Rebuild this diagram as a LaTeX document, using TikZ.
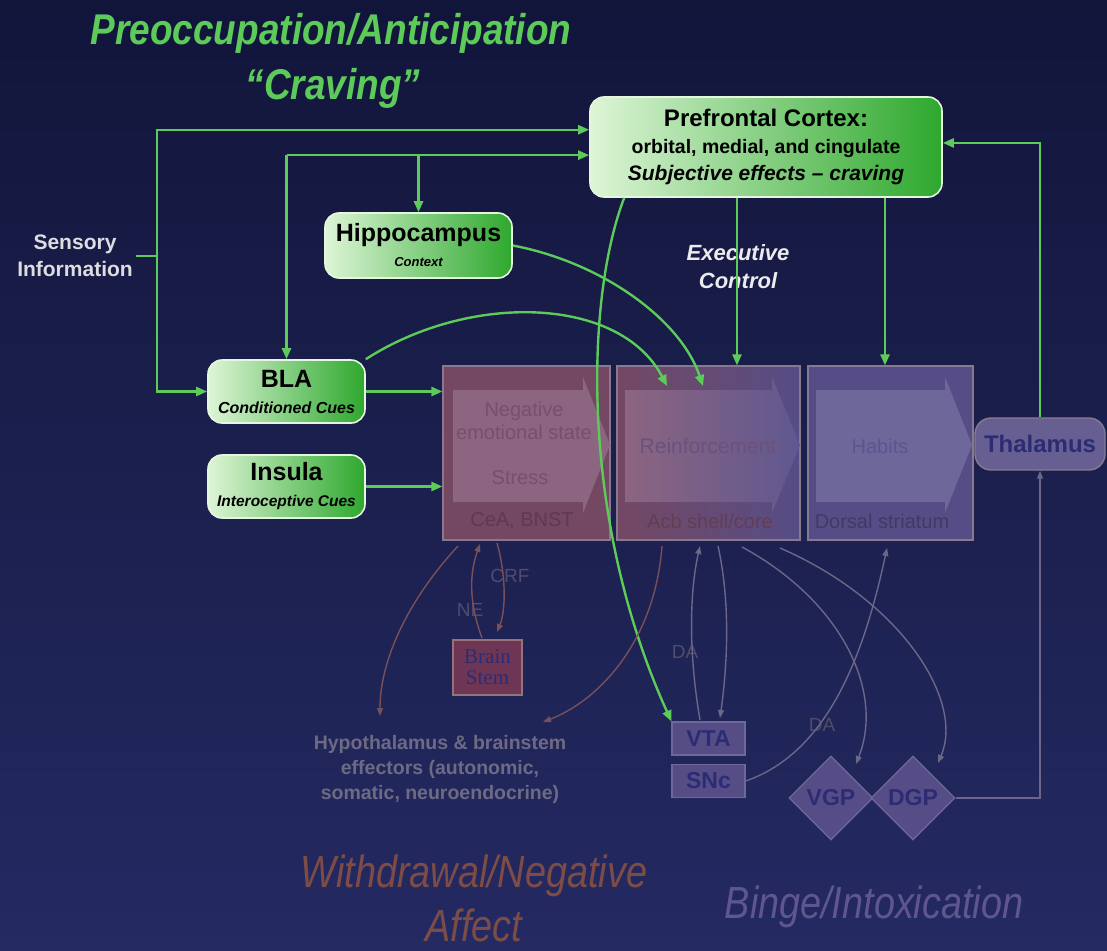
\documentclass[tikz,border=0pt]{standalone}
\usepackage{fontspec}
\setmainfont{Liberation Sans}
\newfontfamily\serifbs{Liberation Serif}
\usetikzlibrary{arrows.meta,calc,shapes.geometric}
\definecolor{bgtop}{HTML}{12153A}
\definecolor{bgbot}{HTML}{242A62}
\definecolor{gline}{HTML}{5CCB5A}
\definecolor{glight}{HTML}{DDF5D6}
\definecolor{gdark}{HTML}{2EA82E}
\definecolor{fadeline}{HTML}{6C6688}
\definecolor{brownline}{HTML}{7A5058}
\definecolor{fadetext}{HTML}{6E6A84}
\definecolor{navytext}{HTML}{2C2C74}
\definecolor{maroon}{HTML}{744863}
\definecolor{maroonlt}{HTML}{8C6580}
\definecolor{purp}{HTML}{564D86}
\definecolor{purplt}{HTML}{6E679A}
\definecolor{boxedge}{HTML}{877A8E}
\definecolor{wdtext}{HTML}{7E4C46}
\definecolor{negtext}{HTML}{76506C}
\definecolor{reintext}{HTML}{6A527C}
\definecolor{habtext}{HTML}{5C5590}
\begin{document}
\begin{tikzpicture}[x=1pt,y=-1pt,
  greenbox/.style={draw=glight!80!white,line width=1.6pt,rounded corners=14pt,
    left color=glight,right color=gdark,align=center,inner sep=1pt},
  garrow/.style={draw=gline,line width=2.4pt,-{Triangle[length=11pt,width=9pt]}},
  gplain/.style={draw=gline,line width=2.4pt},
  farrow/.style={draw=fadeline,line width=1.4pt,-{Triangle[length=8pt,width=6pt]}},
  barrow/.style={draw=brownline,line width=1.4pt,-{Triangle[length=8pt,width=6pt]}},
  fadebox/.style={draw=purplt,line width=1.2pt,fill=purp,text=navytext,
    font=\fontsize{23}{24}\selectfont\bfseries,inner sep=0pt},
  flabel/.style={text=fadetext!120!white,font=\fontsize{19}{20}\selectfont}]

% background
\shade[top color=bgtop,bottom color=bgbot] (0,0) rectangle (1107,950);
\useasboundingbox (0,0) rectangle (1107,950);

% titles
\node[text=gline,font=\fontsize{43}{46}\selectfont\bfseries\itshape,xscale=0.86] (title1) at (331,33) {Preoccupation/Anticipation};
\node[text=gline,font=\fontsize{43}{46}\selectfont\bfseries\itshape,xscale=0.86] (title2) at (333,88) {“Craving”};

% green boxes
\node[greenbox,minimum width=352pt,minimum height=100pt,font=\fontsize{20}{27}\selectfont] (pfc) at (766,147)
  {{\fontsize{24}{27}\selectfont\bfseries Prefrontal Cortex:}\\
   {\fontsize{19.5}{27}\selectfont\bfseries orbital, medial, and cingulate}\\
   {\fontsize{21}{27}\selectfont\bfseries\itshape Subjective effects – craving}};
\node[greenbox,minimum width=187pt,minimum height=65pt,font=\fontsize{14}{25}\selectfont] (hip) at (418.5,245.5)
  {{\fontsize{25}{25}\selectfont\bfseries Hippocampus}\\
   {\fontsize{13}{15}\selectfont\bfseries\itshape Context}};
\node[greenbox,minimum width=157pt,minimum height=63pt,font=\fontsize{14}{26}\selectfont] (bla) at (286.5,391.5)
  {{\fontsize{25}{25}\selectfont\bfseries BLA}\\
   {\fontsize{16}{16}\selectfont\bfseries\itshape Conditioned Cues}};
\node[greenbox,minimum width=157pt,minimum height=63pt,font=\fontsize{14}{26}\selectfont] (ins) at (286.5,486.5)
  {{\fontsize{25}{25}\selectfont\bfseries Insula}\\
   {\fontsize{15.5}{16}\selectfont\bfseries\itshape Interoceptive Cues}};

\node[text=white!85!bgtop,align=center,font=\fontsize{21}{27}\selectfont\bfseries] (sens) at (75,256) {Sensory\\Information};
\node[text=white!92!bgtop,align=center,font=\fontsize{22}{28}\selectfont\bfseries\itshape] (exec) at (738,267) {Executive\\Control};

% faded circuit boxes
\node[draw=boxedge,line width=1.2pt,fill=maroon,minimum width=167pt,minimum height=174pt,inner sep=0pt] (neg) at (526.5,453) {};
\fill[maroonlt] (453,390) -- (583,390) -- (583,377) -- (610,445) -- (583,513) -- (583,502) -- (453,502) -- cycle;
\node[text=negtext,align=center,font=\fontsize{20}{23}\selectfont] (negtxt) at (524,421) {Negative\\emotional state};
\node[text=negtext,font=\fontsize{20}{23}\selectfont] (stress) at (520,478) {Stress};
\node[text=maroon!80!black,font=\fontsize{20}{23}\selectfont] (cea) at (522,521) {CeA, BNST};

\node[draw=boxedge,line width=1.2pt,left color=maroon,right color=purp,minimum width=183pt,minimum height=174pt,inner sep=0pt] (rein) at (708.5,453) {};
\shade[left color=maroonlt,right color=purplt!110!white] (625,390) -- (772,390) -- (772,377) -- (800,445) -- (772,513) -- (772,502) -- (625,502) -- cycle;
\node[text=reintext,font=\fontsize{21}{23}\selectfont] (reintxt) at (708,446) {Reinforcement};
\node[text=maroon!85!black,font=\fontsize{20}{23}\selectfont] (acb) at (710,521) {Acb shell/core};

\node[draw=boxedge,line width=1.2pt,fill=purp,minimum width=165pt,minimum height=174pt,inner sep=0pt] (hab) at (890.5,453) {};
\fill[purplt] (816,390) -- (945,390) -- (945,377) -- (972,445) -- (945,513) -- (945,502) -- (816,502) -- cycle;
\node[text=habtext,font=\fontsize{20}{23}\selectfont] (habtxt) at (880,446) {Habits};
\node[text=purp!75!black,font=\fontsize{20}{23}\selectfont] (dors) at (882,521) {Dorsal striatum};

\node[draw=boxedge,line width=1.4pt,fill=purp!90!white,rounded corners=16pt,minimum width=130pt,minimum height=52pt,inner sep=0pt,text=navytext,font=\fontsize{24}{26}\selectfont\bfseries] (thal) at (1040,444) {Thalamus};

% lower structures
\node[draw=brownline!80!white,line width=1.2pt,fill=maroon!80!red!70!bgbot,minimum width=69pt,minimum height=55pt,inner sep=0pt,align=center,text=navytext,font=\fontsize{21}{21}\selectfont\serifbs] (bs) at (487.5,667.5) {Brain\\Stem};
\node[flabel] (crf) at (510,576) {CRF};
\node[flabel] (ne) at (470,610) {NE};

\node[text=fadetext,align=center,font=\fontsize{19.5}{25}\selectfont\bfseries] (hypo) at (440,769)
  {Hypothalamus \& brainstem\\effectors (autonomic,\\somatic, neuroendocrine)};

\node[fadebox,minimum width=73pt,minimum height=33pt] (vta) at (708.5,738.5) {VTA};
\node[fadebox,minimum width=73pt,minimum height=33pt] (snc) at (708.5,781) {SNc};
\node[fadebox,diamond,minimum width=84pt,minimum height=84pt] (vgp) at (831,798) {VGP};
\node[fadebox,diamond,minimum width=84pt,minimum height=84pt] (dgp) at (913,798) {DGP};
\node[flabel] (da1) at (685,652) {DA};
\node[flabel] (da2) at (822,725) {DA};

\node[text=wdtext,font=\fontsize{45}{48}\selectfont\itshape,xscale=0.84] (wd1) at (474,876) {Withdrawal/Negative};
\node[text=wdtext,font=\fontsize{45}{48}\selectfont\itshape,xscale=0.84] (wd2) at (474,925) {Affect};
\node[text=purp!95!white,font=\fontsize{45}{48}\selectfont\itshape,xscale=0.84] (binge) at (874,907) {Binge/Intoxication};

% anchor points on the boxes
\coordinate (pa) at ($(pfc.north west)!0.33!(pfc.south west)$);
\coordinate (pb) at ($(pfc.north west)!0.58!(pfc.south west)$);
\coordinate (pc) at ($(pfc.north east)!0.46!(pfc.south east)$);
\coordinate (sj) at (157,256);
\coordinate (bj) at (bla.north |- pb);
\coordinate (hj) at (hip.north |- pb);

% green connectors
\draw[gplain] (sens.east) -- (sj);
\draw[garrow] (sj) |- (pa);
\draw[garrow] (sj) |- (bla.west);
\draw[garrow] (bj) -- (pb);
\draw[garrow] (bj) -- (bla.north);
\draw[garrow] (hj) -- (hip.north);
\draw[garrow] (thal.north) |- (pc);
\draw[garrow] (pfc.south -| 737,0) -- (rein.north -| 737,0);
\draw[garrow] (pfc.south -| 885,0) -- (hab.north -| 885,0);
\draw[garrow] (bla.east) -- (neg.west |- bla.east);
\draw[garrow] (ins.east) -- (neg.west |- ins.east);
\draw[garrow] (hip.east) .. controls (600,262) and (680,318) .. (703,386);
\draw[garrow] (bla.north east) .. controls (470,292) and (620,296) .. (667,386);
\draw[garrow] (pfc.south west) ++(35,0) .. controls (585,300) and (580,520) .. (vta.north west);

% faded connectors
\draw[barrow] (482,638) .. controls (468,600) and (470,572) .. (480,544);
\draw[barrow] (497,543) .. controls (506,575) and (506,610) .. (497,632);
\draw[barrow] (458,546) .. controls (408,600) and (380,660) .. (380,716);
\draw[barrow] (662,546) .. controls (655,640) and (600,700) .. (543,722);
\draw[farrow] (700,720) .. controls (688,650) and (690,590) .. (700,546);
\draw[farrow] (718,546) .. controls (730,600) and (728,660) .. (720,718);
\draw[farrow] (snc.east) .. controls (830,752) and (865,650) .. (887,548);
\draw[farrow] (742,547) .. controls (840,600) and (885,690) .. (856,764);
\draw[farrow] (780,548) .. controls (900,600) and (965,700) .. (938,763);
\draw[farrow] (dgp.east) -| (thal.south);
\end{tikzpicture}
\end{document}
